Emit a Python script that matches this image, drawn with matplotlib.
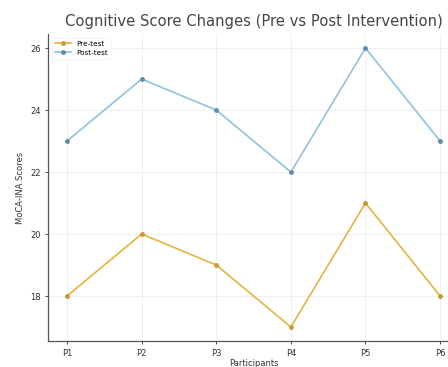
import matplotlib
matplotlib.use("Agg")
import matplotlib.pyplot as plt

# dados
participants = ["P1", "P2", "P3", "P4", "P5", "P6"]
pre_test = [18, 20, 19, 17, 21, 18]
post_test = [23, 25, 24, 22, 26, 23]

fig = plt.figure(figsize=(4.48, 3.67), dpi=100)
# eixo um pouco além da borda direita (imagem original recortada)
ax = fig.add_axes([0.108, 0.071, 0.916, 0.836])

x = range(len(participants))
ax.plot(x, pre_test, color="#e3b540", linewidth=1.2, marker="o", markersize=2.5,
        markerfacecolor="#c99a30", markeredgecolor="#c99a30", label="Pre-test")
ax.plot(x, post_test, color="#8fc3dc", linewidth=1.2, marker="o", markersize=2.5,
        markerfacecolor="#5f8fa8", markeredgecolor="#5f8fa8", label="Post-test")

ax.set_xticks(list(x))
ax.set_xticklabels(participants)
ax.set_yticks([18, 20, 22, 24, 26])
ax.tick_params(labelsize=6, colors="#333333", length=2, width=0.6)
ax.set_xlabel("Participants", fontsize=6, color="#333333", labelpad=1)
ax.set_ylabel("MoCA-INA Scores", fontsize=6, color="#333333", labelpad=4)
ax.set_title("Cognitive Score Changes (Pre vs Post Intervention)", fontsize=10.6,
             color="#444444", pad=6)

ax.grid(True, color="#ececec", linewidth=0.6)
ax.set_axisbelow(True)
for side in ["top", "right"]:
    ax.spines[side].set_visible(False)
for side in ["left", "bottom"]:
    ax.spines[side].set_color("#555555")
    ax.spines[side].set_linewidth(0.9)

leg = ax.legend(loc="upper left", fontsize=5.2, frameon=True, handlelength=2.2,
                borderpad=0.4, labelspacing=0.4)
leg.get_frame().set_edgecolor("#eeeeee")
leg.get_frame().set_linewidth(0.5)

fig.savefig("out.png", dpi=100)
